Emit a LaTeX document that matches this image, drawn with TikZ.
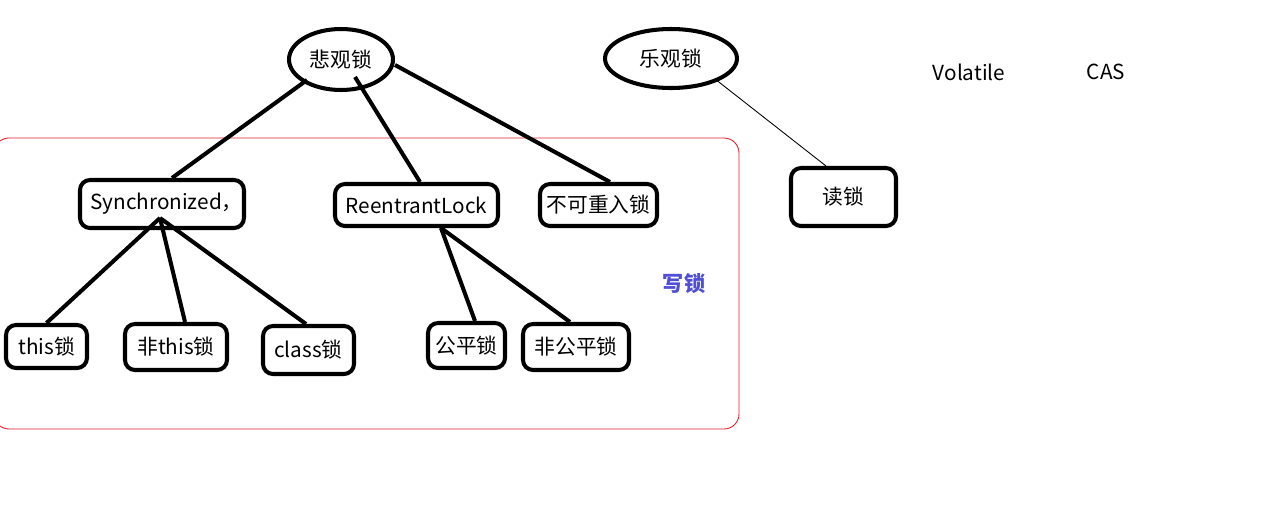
\documentclass[tikz,border=0pt]{standalone}
\usepackage{fontspec}
\setmainfont{Noto Sans CJK SC}
\usepackage{tikz}
\usetikzlibrary{calc,shapes.geometric}
\definecolor{writeblue}{RGB}{80,80,214}
\definecolor{framered}{RGB}{225,30,40}
\tikzset{
	lockbox/.style={draw, line width=2.3pt, rounded corners=0.2cm, inner sep=0pt, font=\fontsize{11.8}{14}\selectfont},
	lockoval/.style={draw, ellipse, line width=2.3pt, inner sep=0pt, font=\fontsize{11.8}{14}\selectfont},
	conn/.style={line width=2.3pt},
	thinconn/.style={line width=0.5pt}
}

\begin{document}
\begin{tikzpicture}[x=0.02cm, y=-0.02cm]
		%%%%% START %%%%%
		\useasboundingbox (0, 0) rectangle (1262, 521);
		
		\draw[framered, line width=0.5pt, rounded corners=0.3cm] (-6, 138) rectangle (739, 429);
		
		\node[lockoval, minimum width=2.08cm, minimum height=1.22cm] (pess) at (341, 59.5) {悲观锁};
		\node[lockoval, minimum width=2.64cm, minimum height=1.18cm] (opt) at (671, 58.5) {乐观锁};
		
		\node[lockbox, minimum width=3.28cm, minimum height=0.96cm] (sync) at (162, 204) {\hspace{5pt}Synchronized，};
		\node[lockbox, minimum width=3.26cm, minimum height=0.84cm] (reent) at (416.5, 205) {ReentrantLock};
		\node[lockbox, minimum width=2.34cm, minimum height=0.84cm] (nonre) at (598.5, 205) {不可重入锁};
		
		\node[lockbox, minimum width=1.62cm, minimum height=0.86cm] (this) at (46.5, 346.5) {this锁};
		\node[lockbox, minimum width=2.04cm, minimum height=0.92cm] (nthis) at (176, 347) {非this锁};
		\node[lockbox, minimum width=1.82cm, minimum height=0.96cm] (cls) at (308.5, 350) {class锁};
		\node[lockbox, minimum width=1.54cm, minimum height=0.90cm] (fair) at (466.5, 345.5) {公平锁};
		\node[lockbox, minimum width=2.12cm, minimum height=0.92cm] (unfair) at (576, 347) {非公平锁};
		
		\node[lockbox, minimum width=2.10cm, minimum height=1.16cm] (read) at (843.5, 197) {读锁};
		
		\node[font=\fontsize{12}{14}\selectfont\bfseries, text=writeblue] (write) at (684, 284) {写锁};
		\node[font=\fontsize{11.8}{14}\selectfont] (vol) at (969, 72) {Volatile};
		\node[font=\fontsize{11.8}{14}\selectfont] (cas) at (1106, 72) {CAS};
		
		\draw[conn] ($(pess)+(-34, 20.5)$) -- ([xshift=0.2cm]sync.north);
		\draw[conn] ($(pess)+(14, 17.5)$) -- ([xshift=0.07cm]reent.north);
		\draw[conn] ($(pess)+(54, 5.5)$) -- ([xshift=0.23cm]nonre.north);
		
		\draw[conn] ($(sync)+(-2, 14)$) -- (this.north);
		\draw[conn] ($(sync)+(-2, 14)$) -- ([xshift=0.18cm]nthis.north);
		\draw[conn] ($(sync)+(-2, 14)$) -- ([xshift=-0.05cm]cls.north);
		
		\draw[conn] ($(reent)+(24.5, 23)$) -- ([xshift=0.17cm]fair.north);
		\draw[conn] ($(reent)+(24.5, 23)$) -- ([xshift=-0.12cm]unfair.north);
		
		\draw[thinconn] ($(opt)+(44, 20.5)$) -- ([xshift=-0.35cm]read.north);
		%%%%% END %%%%%
	\end{tikzpicture}
\end{document}
